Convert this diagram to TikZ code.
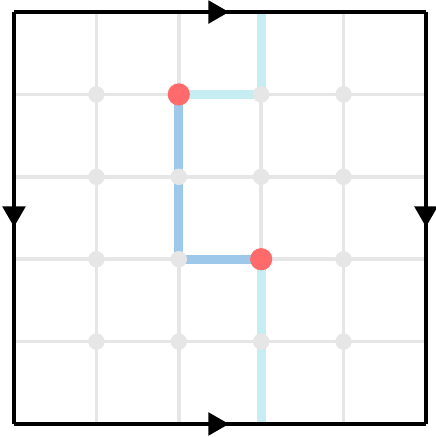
\documentclass[tikz,border=0pt]{standalone}
\usepackage{xcolor}
\usetikzlibrary{arrows.meta, decorations.markings}

\definecolor{gridgray}{HTML}{E6E6E6}
\definecolor{pathcyan}{HTML}{C5EDF2}
\definecolor{pathblue}{HTML}{9DC8EA}
\definecolor{dotred}{HTML}{FF6B6B}

\begin{document}
\begin{tikzpicture}[
  gridline/.style={draw=gridgray, line width=1.2pt},
  outer/.style={draw=black, line width=1.5pt},
  cyanpath/.style={draw=pathcyan, line width=3.1pt},
  bluepath/.style={draw=pathblue, line width=3.1pt},
  graydot/.style={circle, fill=gridgray, inner sep=0pt, minimum size=0.2cm},
  reddot/.style={circle, fill=dotred, inner sep=0pt, minimum size=0.27cm},
  midarrow/.style={postaction={decorate}, decoration={markings,
    mark=at position 0.522 with {\arrow{Triangle[length=0.25cm, width=0.27cm]}}}}
]
  \useasboundingbox (-0.17,-0.158) rectangle (5.115,5.146);

  % corners of the square
  \coordinate (sw) at (0,0);
  \coordinate (nw) at (0,5);
  \coordinate (ne) at (5,5);
  \coordinate (se) at (5,0);

  % grid lines
  \foreach \k in {1,...,4} {
    \coordinate (b\k) at (\k,0);
    \coordinate (t\k) at (\k,5);
    \coordinate (l\k) at (0,\k);
    \coordinate (r\k) at (5,\k);
    \draw[gridline] (b\k) -- (t\k);
    \draw[gridline] (l\k) -- (r\k);
  }

  % string through the grid
  \draw[cyanpath] (t3) -- (3,4) -- (2,4);
  \draw[bluepath] (2,4) -- (2,2) -- (3,2);
  \draw[cyanpath] (3,2) -- (b3);

  % grid points
  \foreach \i in {1,...,4}
    \foreach \j in {1,...,4}
      \node[graydot] (p-\i-\j) at (\i,\j) {};

  % end points
  \node[reddot] (e1) at (p-2-4) {};
  \node[reddot] (e2) at (p-3-2) {};

  % boundary with orientation
  \draw[outer, midarrow] (nw) -- (ne);
  \draw[outer, midarrow] (sw) -- (se);
  \draw[outer, midarrow] (nw) -- (sw);
  \draw[outer, midarrow] (ne) -- (se);
\end{tikzpicture}
\end{document}
